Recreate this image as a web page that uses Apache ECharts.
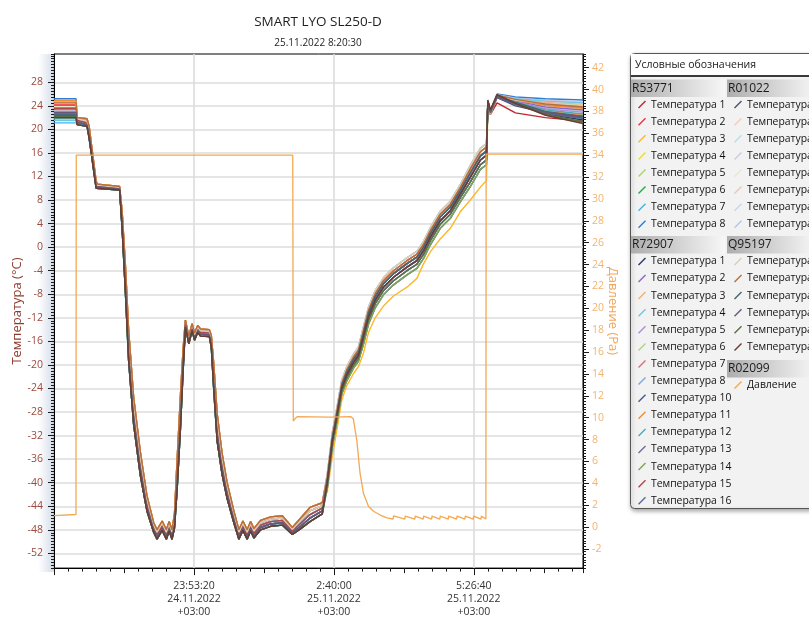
<!DOCTYPE html>
<html><head><meta charset="utf-8">
<script src="https://cdn.jsdelivr.net/npm/echarts@6/dist/echarts.min.js"></script>
<style>html,body{margin:0;padding:0;background:#fff}#c{width:809px;height:619px}</style>
</head><body><div id="c"></div>
<script>
// ---------- time axes (seconds since 24.11.2022 00:00) ----------
const startTimes = [76000, 77575];
const coldTimes = [77650, 78360, 78510, 79010, 79110, 80690, 80870, 81100, 81330, 81690, 82170, 82640, 83120, 83360, 83730, 84030, 84230, 84430, 84610, 84790, 85040, 85220, 85390, 85630, 85870, 86040, 86270, 86470, 87100, 87240, 87420, 87660, 88010, 88370, 88850, 89210, 89500, 89800, 90050, 90280, 90760, 91480, 92310, 93030, 93630, 94290, 95170];
const riseTimes = [95530, 95890, 96250, 96560, 96920, 97390, 97750, 98110, 98470, 98950, 99540, 100260, 101220, 101930, 102410, 102890, 103600, 104320, 105030, 105750, 106470, 106900];
const endTimes = [107000, 107180, 107660, 108970, 111120, 113800];

// ---------- temperature bundle bands, cold phase (°C) ----------
const coldA = [22.0, 21.8, 20.5, 11.2, 10.7, 10.3, 6.0, -3.0, -14.0, -25.5, -34.8, -42.2, -46.8, -48.0, -46.5, -48.0, -46.6, -48.0, -45.3, -36.5, -25.0, -17.5, -12.4, -15.1, -13.0, -14.6, -13.3, -13.9, -14.0, -15.0, -20.0, -28.3, -35.0, -40.0, -44.8, -48.0, -46.5, -48.0, -46.6, -47.8, -46.4, -45.8, -45.6, -47.6, -46.0, -44.2, -43.4];
const coldB = [21.8, 21.4, 20.0, 10.9, 10.5, 10.15, 5.2, -4.2, -15.3, -26.6, -35.8, -42.8, -47.2, -48.4, -46.9, -48.4, -47.0, -48.4, -45.9, -37.8, -26.4, -18.5, -12.7, -15.5, -13.3, -14.9, -13.6, -14.2, -14.3, -15.5, -21.1, -29.4, -35.9, -40.6, -45.3, -48.4, -46.9, -48.4, -47.0, -48.2, -46.8, -46.2, -46.0, -47.9, -46.4, -44.8, -43.9];
const coldC = [21.5, 21.1, 19.5, 10.6, 10.3, 10.0, 4.5, -5.3, -16.6, -27.8, -36.8, -43.5, -47.6, -48.8, -47.3, -48.8, -47.4, -48.8, -46.5, -39.0, -27.8, -19.4, -13.0, -15.8, -13.6, -15.2, -13.9, -14.5, -14.6, -16.0, -22.2, -30.6, -36.8, -41.3, -45.8, -48.8, -47.3, -48.8, -47.4, -48.6, -47.2, -46.6, -46.4, -48.2, -46.9, -45.4, -44.3];
const coldD = [21.2, 20.8, 19.0, 10.3, 10.1, 9.85, 3.7, -6.4, -17.9, -29.0, -37.8, -44.2, -48.0, -49.2, -47.7, -49.2, -47.8, -49.2, -47.1, -40.2, -29.2, -20.3, -13.3, -16.1, -13.9, -15.5, -14.2, -14.8, -14.9, -16.5, -23.3, -31.8, -37.7, -42.0, -46.3, -49.2, -47.7, -49.2, -47.8, -49.0, -47.6, -47.0, -46.8, -48.5, -47.4, -46.0, -44.8];
const coldE = [20.8, 20.5, 18.5, 10.0, 9.9, 9.7, 3.0, -7.6, -19.2, -30.1, -38.8, -44.8, -48.4, -49.6, -48.1, -49.6, -48.2, -49.6, -47.7, -41.5, -30.6, -21.3, -13.6, -16.4, -14.2, -15.8, -14.5, -15.1, -15.2, -17.0, -24.4, -33.0, -38.6, -42.7, -46.8, -49.6, -48.1, -49.6, -48.2, -49.4, -48.0, -47.4, -47.2, -48.8, -47.8, -46.6, -45.3];

// ---------- temperature bundle bands, warming phase (°C) ----------
const riseA = [-38.5, -31.5, -26.8, -22.6, -20.3, -18.2, -17.0, -13.6, -10.2, -7.4, -5.2, -3.5, -1.8, -0.7, 1.0, 3.3, 6.1, 7.8, 10.6, 13.9, 16.8, 17.6];
const riseB = [-39.0, -32.0, -27.3, -23.1, -20.8, -18.7, -17.5, -14.1, -10.7, -7.9, -5.7, -4.0, -2.3, -1.2, 0.5, 2.8, 5.6, 7.3, 10.1, 13.3, 16.2, 17.0];
const riseC = [-39.4, -32.4, -27.7, -23.5, -21.2, -19.1, -17.9, -14.6, -11.2, -8.4, -6.2, -4.5, -2.8, -1.7, 0.0, 2.3, 5.1, 6.8, 9.6, 12.6, 15.5, 16.3];
const riseD = [-39.9, -32.9, -28.2, -24.0, -21.7, -19.6, -18.4, -15.2, -11.8, -9.0, -6.8, -5.1, -3.4, -2.3, -0.6, 1.7, 4.5, 6.2, 9.0, 11.9, 14.8, 15.6];
const riseE = [-40.4, -33.4, -28.7, -24.5, -22.2, -20.1, -18.9, -15.8, -12.4, -9.6, -7.4, -5.7, -4.0, -2.9, -1.2, 1.1, 3.9, 5.6, 8.4, 11.1, 14.0, 14.8];
const riseF = [-40.9, -33.9, -29.2, -25.0, -22.7, -20.6, -19.4, -16.5, -13.1, -10.3, -8.1, -6.4, -4.7, -3.6, -1.9, 0.4, 3.2, 4.9, 7.7, 10.3, 13.2, 14.0];
const riseG = [-41.5, -35.5, -30.5, -26.0, -23.5, -21.5, -20.3, -18.0, -14.5, -12.0, -10.0, -8.3, -6.8, -5.3, -2.8, -0.8, 1.4, 3.2, 6.0, 8.0, 10.2, 11.3];

// ---------- sensor groups ----------
const namesR53771 = ['Температура 1','Температура 2','Температура 3','Температура 4','Температура 5','Температура 6','Температура 7','Температура 8'];
const startR53771 = [24.0, 24.2, 24.8, 23.6, 22.3, 22.6, 21.1, 25.2];
const coldR53771 = ['C','B','A','B','D','C','E','A'];
const riseR53771 = ['C','B','G','F','E','D','F','A'];
const endR53771 = [[24.0,22.5,24.5,22.8,22.0,21.4],[24.5,23.0,25.6,25.0,24.6,24.3],[23.5,22.5,25.5,24.5,23.2,22.5],[24.0,22.8,25.8,25.0,24.0,23.5],[24.5,22.9,25.7,24.4,22.8,21.8],[24.6,23.0,25.6,24.9,24.2,23.8],[24.2,22.7,25.9,25.3,24.9,24.6],[24.8,23.2,26.0,25.5,25.2,25.0]];

const namesR01022 = ['Температура 1','Температура 2','Температура 3','Температура 4','Температура 5','Температура 6','Температура 7','Температура 8'];
const startR01022 = [22.9, 24.4, 22.0, 23.2, 23.9, 24.6, 22.4, 23.0];
const coldR01022 = ['D','A','C','B','C','B','D','C'];
const riseR01022 = ['C','B','D','A','B','C','E','D'];
const endR01022 = [[24.3,22.6,25.4,24.0,22.8,22.0],[24.0,22.8,25.8,25.2,24.7,24.4],[24.2,22.9,25.7,25.0,24.4,24.0],[24.5,23.1,25.9,25.3,24.9,24.7],[24.1,22.8,25.6,24.8,24.0,23.6],[24.4,23.0,25.7,25.1,24.5,24.2],[24.0,22.7,25.5,24.6,23.6,23.1],[24.3,22.9,25.6,24.9,24.1,23.7]];

const namesR72907 = ['Температура 1','Температура 2','Температура 3','Температура 4','Температура 5','Температура 6','Температура 7','Температура 8','Температура 10','Температура 11','Температура 12','Температура 13','Температура 14','Температура 15','Температура 16'];
const startR72907 = [22.8, 22.2, 24.7, 21.5, 23.3, 22.1, 23.7, 21.8, 22.5, 24.9, 21.9, 22.7, 22.0, 23.5, 22.6];
const coldR72907 = ['D','C','A','E','B','D','B','E','D','A','C','D','E','C','D'];
const riseR72907 = ['C','F','B','E','D','C','B','D','E','C','D','E','F','C','D'];
const endR72907 = [[24.8,23.1,25.8,24.5,22.6,21.6],[24.4,22.9,25.5,24.8,23.8,23.3],[24.2,22.8,25.7,25.1,24.5,24.1],[24.5,23.0,25.8,25.2,24.8,24.5],[24.0,22.6,25.6,24.7,23.5,22.9],[24.6,22.9,25.7,24.6,23.1,22.2],[24.2,22.8,25.6,24.9,24.2,23.9],[24.7,23.1,25.9,25.0,24.3,23.9],[24.3,22.8,25.4,24.2,22.7,21.9],[24.6,23.0,25.8,25.0,24.1,23.6],[24.1,22.7,25.6,24.6,23.3,22.6],[24.5,22.9,25.5,24.3,22.9,22.0],[24.8,23.2,25.7,24.4,22.5,21.2],[24.4,22.9,25.6,24.5,23.0,22.3],[24.2,22.8,25.5,24.3,22.8,21.9]];

const namesQ95197 = ['Температура 1','Температура 2','Температура 3','Температура 4','Температура 5','Температура 6'];
const startQ95197 = [23.1, 24.5, 22.4, 22.9, 22.2, 22.0];
const coldQ95197 = ['B','A','E','D','E','E'];
const riseQ95197 = ['A','B','C','D','E','D'];
const endQ95197 = [[24.0,22.7,25.6,25.0,24.4,24.1],[24.6,23.0,25.8,25.1,24.3,23.8],[24.7,23.1,25.7,24.6,23.0,22.1],[24.3,22.8,25.5,24.4,22.9,22.0],[24.9,23.2,25.8,24.5,22.6,21.3],[25.0,23.3,25.9,24.4,22.4,21.0]];

// ---------- pressure (Pa) ----------
const pressTimes = [76000, 77570, 77590, 93060, 93100, 93220, 93380, 95720, 97200, 97280, 97390, 97640, 97870, 98110, 98470, 98830, 99310, 99790, 100230, 100260, 101070, 101100, 101780, 101810, 102380, 102410, 102980, 103010, 103570, 103600, 104170, 104200, 104770, 104800, 105360, 105390, 105960, 105990, 106510, 106540, 106860, 106880, 113800];
const pressVals = [1.05, 1.15, 34.0, 34.0, 9.7, 9.9, 10.1, 10.05, 10.1, 10.2, 9.9, 7.9, 4.9, 3.1, 1.9, 1.45, 1.1, 0.85, 0.74, 1.02, 0.73, 1.0, 0.73, 1.0, 0.72, 1.0, 0.72, 1.0, 0.72, 1.0, 0.72, 1.0, 0.72, 1.0, 0.72, 1.0, 0.72, 1.0, 0.72, 1.0, 0.74, 34.1, 34.1];

// ---------- tick labels ----------
const xLabelTicks = [86000, 96000, 106000];
const xMajorTicks = [76000, 86000, 96000, 106000];
const tempTicks = [-52,-48,-44,-40,-36,-32,-28,-24,-20,-16,-12,-8,-4,0,4,8,12,16,20,24,28];
const pressTicks = [-2,0,2,4,6,8,10,12,14,16,18,20,22,24,26,28,30,32,34,36,38,40,42];

// ---------- styles ----------
const colorsR53771 = ['#C0282D','#F0303A','#FDB827','#EDE21A','#A6D46A','#1FAE4B','#3EB5EC','#2F7CD3'];
const colorsR01022 = ['#4A5468','#F6CDB5','#B5E0EE','#D2C8E6','#E2ECC6','#EAC6BE','#C6D6EC','#B6C6EA'];
const colorsR72907 = ['#2C3A6C','#9163CA','#F6AE6E','#74C6E0','#AE8ED6','#A6D686','#D67272','#7EA6D8','#4A5A8C','#F08C32','#4EA8B6','#7A6898','#7AA84E','#B24646','#5A6A9C'];
const colorsQ95197 = ['#D8D0B0','#B86E3E','#3A6A78','#6A5878','#5A7040','#6A3A36'];
const pressColor = '#F4A852';
const FONT = "'Segoe UI','Open Sans',sans-serif";

const coldBands = {A: coldA, B: coldB, C: coldC, D: coldD, E: coldE};
const riseBands = {A: riseA, B: riseB, C: riseC, D: riseD, E: riseE, F: riseF, G: riseG};
const tempTimes = startTimes.concat(coldTimes, riseTimes, endTimes);

const groups = [
  {id:'R53771', names:namesR53771, start:startR53771, cold:coldR53771, rise:riseR53771, end:endR53771, colors:colorsR53771},
  {id:'R01022', names:namesR01022, start:startR01022, cold:coldR01022, rise:riseR01022, end:endR01022, colors:colorsR01022},
  {id:'R72907', names:namesR72907, start:startR72907, cold:coldR72907, rise:riseR72907, end:endR72907, colors:colorsR72907},
  {id:'Q95197', names:namesQ95197, start:startQ95197, cold:coldQ95197, rise:riseQ95197, end:endQ95197, colors:colorsQ95197}
];

const series = [];
groups.forEach(g => {
  g.names.forEach((n, i) => {
    const vals = [g.start[i], g.start[i]].concat(coldBands[g.cold[i]], riseBands[g.rise[i]], g.end[i]);
    series.push({
      name: g.id + '|' + n, type: 'line', xAxisIndex: 0, yAxisIndex: 0,
      data: tempTimes.map((t, k) => [t, vals[k]]),
      showSymbol: false, symbol: 'none', silent: true, animation: false,
      color: g.colors[i], lineStyle: {width: 1.4, color: g.colors[i]}
    });
  });
});
series.push({
  name: 'R02099|Давление', type: 'line', xAxisIndex: 0, yAxisIndex: 2,
  data: pressTimes.map((t, k) => [t, pressVals[k]]),
  showSymbol: false, symbol: 'none', silent: true, animation: false,
  color: pressColor, lineStyle: {width: 1.3, color: pressColor}
});

function fmtTime(v) {
  const day = Math.floor(v / 86400);
  const s = Math.round(v - day * 86400);
  const h = Math.floor(s / 3600), m = Math.floor((s % 3600) / 60), sec = s % 60;
  const p = x => String(x).padStart(2, '0');
  return h + ':' + p(m) + ':' + p(sec) + '\n' + (24 + day) + '.11.2022\n+03:00';
}

const ICON = 'path://M0,8 L7,1 L8,2 L1,9 Z';
function legendCfg(left, top, g) {
  return {
    orient: 'vertical', left: left, top: top, padding: 0, itemGap: 7.1,
    itemWidth: 8, itemHeight: 8, icon: ICON, selectedMode: false,
    lineStyle: {width: 0, opacity: 0},
    data: g.names.map(n => g.id + '|' + n),
    formatter: n => n.split('|')[1],
    textStyle: {fontFamily: FONT, fontSize: 10.4, color: '#111', lineHeight: 10}
  };
}

const bandFill = {type: 'linear', x: 0, y: 0, x2: 1, y2: 0, colorStops: [{offset: 0, color: '#ADADAD'}, {offset: 1, color: '#F7F7F7'}]};
function band(x, y, w, label) {
  return [
    {type: 'rect', z: 2, shape: {x: x, y: y, width: w, height: 17.5}, style: {fill: bandFill}},
    {type: 'text', z: 3, x: x + 1, y: y + 9, style: {text: label, font: '12px ' + FONT, fill: '#1a1a1a', verticalAlign: 'middle', textVerticalAlign: 'middle'}}
  ];
}

const graphics = [
  {type: 'rect', z: -1, shape: {x: 38, y: 54, width: 16, height: 518},
   style: {fill: {type: 'linear', x: 0, y: 0, x2: 1, y2: 0, colorStops: [{offset: 0, color: 'rgba(205,214,228,0)'}, {offset: 1, color: 'rgba(196,206,222,0.75)'}]}}},
  {type: 'text', z: 3, x: 318, y: 22, style: {text: 'SMART LYO SL250-D', font: '13.5px ' + FONT, fill: '#1e1e1e', align: 'center', textAlign: 'center', verticalAlign: 'middle', textVerticalAlign: 'middle'}},
  {type: 'text', z: 3, x: 318, y: 43, style: {text: '25.11.2022 8:20:30', font: '10px ' + FONT, fill: '#1e1e1e', align: 'center', textAlign: 'center', verticalAlign: 'middle', textVerticalAlign: 'middle'}},
  {type: 'rect', z: 1, shape: {x: 630.5, y: 53.5, width: 200, height: 455, r: 4},
   style: {fill: '#F2F2F2', stroke: '#555555', lineWidth: 1, shadowBlur: 4, shadowColor: 'rgba(0,0,0,0.35)', shadowOffsetX: 1, shadowOffsetY: 2}},
  {type: 'rect', z: 2, shape: {x: 631, y: 54, width: 200, height: 21}, style: {fill: '#FFFFFF'}},
  {type: 'text', z: 3, x: 635, y: 65, style: {text: 'Условные обозначения', font: '10.5px ' + FONT, fill: '#1a1a1a', verticalAlign: 'middle', textVerticalAlign: 'middle'}},
  {type: 'rect', z: 2, shape: {x: 631, y: 75, width: 200, height: 2}, style: {fill: '#3A3A3A'}}
].concat(
  band(631, 79.5, 94, 'R53771'), band(727, 79.5, 90, 'R01022'),
  band(631, 236, 94, 'R72907'), band(727, 236, 90, 'Q95197'),
  band(727, 360, 90, 'R02099')
);

const tickBlack = {color: '#1a1a1a', width: 1};
const option = {
  animation: false,
  backgroundColor: '#ffffff',
  grid: {left: 54, right: 226, top: 54, bottom: 47, show: true, borderColor: '#000', borderWidth: 1, backgroundColor: 'transparent'},
  xAxis: [
    {type: 'value', position: 'bottom', min: 76000, max: 113800, interval: 10000,
     axisLine: {show: true, onZero: false, lineStyle: {color: '#000', width: 1}},
     axisTick: {show: true, length: 7, customValues: xMajorTicks, lineStyle: tickBlack},
     axisLabel: {show: true, customValues: xLabelTicks, formatter: fmtTime, color: '#333', fontSize: 10.5, fontFamily: FONT, lineHeight: 13.3, margin: 11, hideOverlap: false},
     splitLine: {show: true, lineStyle: {color: '#DCDCDC', width: 1.6}}},
    {type: 'value', position: 'bottom', min: 76000, max: 113800, interval: 5000,
     axisLine: {show: false, onZero: false}, axisTick: {show: true, length: 5, lineStyle: tickBlack}, axisLabel: {show: false}, splitLine: {show: false}},
    {type: 'value', position: 'bottom', min: 76000, max: 113800, interval: 1000,
     axisLine: {show: false, onZero: false}, axisTick: {show: true, length: 3.5, lineStyle: tickBlack}, axisLabel: {show: false}, splitLine: {show: false}}
  ],
  yAxis: [
    {type: 'value', position: 'left', min: -54.5, max: 32.8,
     name: 'Температура (°C)', nameLocation: 'middle', nameGap: 30, nameMoveOverlap: false,
     nameTextStyle: {color: '#8E3B2E', fontSize: 13, fontFamily: FONT},
     axisLine: {show: true, onZero: false, lineStyle: {color: '#000', width: 1}},
     axisTick: {show: true, length: 6, customValues: tempTicks, lineStyle: tickBlack},
     axisLabel: {show: true, customValues: tempTicks, color: '#9C4A3E', fontSize: 10.5, fontFamily: FONT, margin: 11},
     splitLine: {show: true, lineStyle: {color: '#DCDCDC', width: 1.6}}},
    {type: 'value', position: 'left', min: -54.5, max: 32.8, interval: 0.5,
     axisLine: {show: false, onZero: false}, axisTick: {show: true, length: 3, lineStyle: tickBlack}, axisLabel: {show: false}, splitLine: {show: false}},
    {type: 'value', position: 'right', min: -3.75, max: 43.25,
     name: 'Давление (Pa)', nameLocation: 'middle', nameGap: 23, nameRotate: -90, nameMoveOverlap: false,
     nameTextStyle: {color: '#F2A65A', fontSize: 13, fontFamily: FONT},
     axisLine: {show: true, onZero: false, lineStyle: {color: '#000', width: 1}},
     axisTick: {show: true, length: 6, customValues: pressTicks, lineStyle: tickBlack},
     axisLabel: {show: true, customValues: pressTicks, color: '#F2B46E', fontSize: 10.5, fontFamily: FONT, margin: 9},
     splitLine: {show: false}},
    {type: 'value', position: 'right', min: -3.75, max: 43.25, interval: 0.25,
     axisLine: {show: false, onZero: false}, axisTick: {show: true, length: 3, lineStyle: tickBlack}, axisLabel: {show: false}, splitLine: {show: false}}
  ],
  legend: [
    legendCfg(638, 99.6, groups[0]),
    legendCfg(734, 99.6, groups[1]),
    legendCfg(638, 256.4, groups[2]),
    legendCfg(734, 256.4, groups[3]),
    legendCfg(734, 380, {id: 'R02099', names: ['Давление']})
  ],
  graphic: {elements: graphics},
  series: series
};

const chart = echarts.init(document.getElementById('c'), null, {renderer: 'canvas'});
chart.setOption(option);
</script>
</body></html>
